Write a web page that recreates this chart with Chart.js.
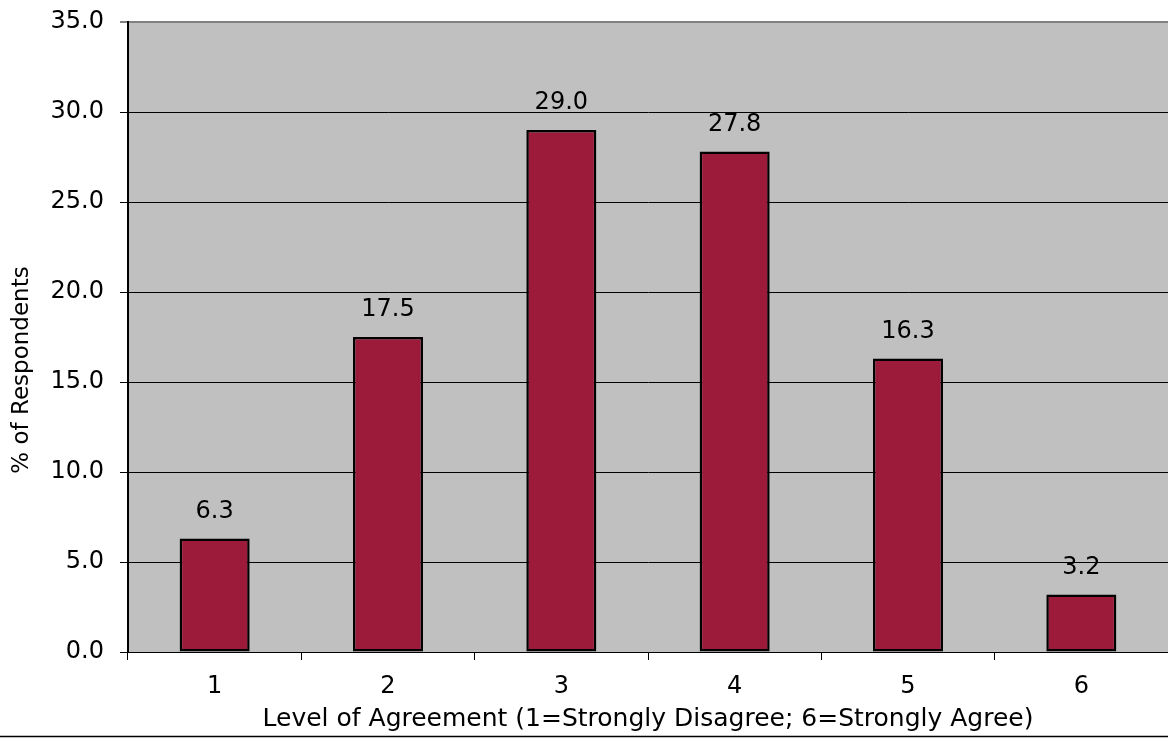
<!DOCTYPE html>
<html>
<head>
<meta charset="utf-8">
<script src="https://cdn.jsdelivr.net/npm/chart.js@4/dist/chart.umd.min.js"></script>
<style>
html,body{margin:0;padding:0;background:#fff;}
#wrap{width:1168px;height:738px;position:relative;}
</style>
</head>
<body>
<div id="wrap"><canvas id="c" width="1168" height="738"></canvas></div>
<script>
const categories = ["1", "2", "3", "4", "5", "6"];
const percentValues = [6.3, 17.5, 29.0, 27.8, 16.3, 3.2];
const yTickValues = [0, 5, 10, 15, 20, 25, 30, 35];
const xTitle = "Level of Agreement (1=Strongly Disagree; 6=Strongly Agree)";
const yTitle = "% of Respondents";

const FONT = "'DejaVu Sans', sans-serif";
const FS = 24;

const plotBg = {
  id: 'plotBg',
  beforeDraw(chart) {
    const {ctx, chartArea: a} = chart;
    ctx.save();
    ctx.fillStyle = '#c0c0c0';
    ctx.fillRect(a.left, a.top, a.right - a.left, a.bottom - a.top);
    ctx.restore();
  },
  afterDraw(chart) {
    const {ctx} = chart;
    ctx.save();
    ctx.strokeStyle = '#000';
    ctx.lineWidth = 1.5;
    ctx.beginPath();
    ctx.moveTo(0, 736.5);
    ctx.lineTo(chart.width, 736.5);
    ctx.stroke();
    // y axis title
    ctx.fillStyle = '#000';
    ctx.font = '23px ' + FONT;
    ctx.textAlign = 'center';
    ctx.textBaseline = 'middle';
    ctx.translate(22, 370);
    ctx.rotate(-Math.PI / 2);
    ctx.fillText(yTitle, 0, 0);
    ctx.restore();
  }
};

const valueLabels = {
  id: 'valueLabels',
  afterDatasetsDraw(chart) {
    const {ctx} = chart;
    const meta = chart.getDatasetMeta(0);
    ctx.save();
    ctx.fillStyle = '#000';
    ctx.font = FS + 'px ' + FONT;
    ctx.textAlign = 'center';
    ctx.textBaseline = 'middle';
    meta.data.forEach((bar, i) => {
      ctx.fillText(percentValues[i].toFixed(1), bar.x, bar.y - 27);
    });
    ctx.restore();
  }
};

new Chart(document.getElementById('c'), {
  type: 'bar',
  data: {
    labels: categories,
    datasets: [{
      data: percentValues,
      backgroundColor: '#9c1a3a',
      borderColor: '#000',
      borderWidth: 2.5,
      borderSkipped: false,
      categoryPercentage: 1,
      barPercentage: 0.404
    }]
  },
  options: {
    responsive: false,
    animation: false,
    devicePixelRatio: 1,
    layout: {padding: {top: 22, right: 0, left: 0, bottom: 0}},
    plugins: {legend: {display: false}, tooltip: {enabled: false}},
    scales: {
      x: {
        grid: {offset: true, drawOnChartArea: false, drawTicks: true, tickLength: 8, color: '#000', lineWidth: 1},
        border: {display: true, color: '#000', width: 1},
        ticks: {color: '#000', font: {family: FONT, size: FS}, padding: 12, maxRotation: 0},
        title: {display: true, text: xTitle, color: '#000', font: {family: FONT, size: 25}, padding: {top: 0, bottom: 4}},
        afterFit(scale) { scale.height = 86; scale.paddingLeft = 0; scale.paddingRight = 0; }
      },
      y: {
        min: 0, max: 35,
        afterBuildTicks(scale) { scale.ticks = yTickValues.map(v => ({value: v})); },
        grid: {
          drawTicks: true, tickLength: 8,
          color: c => (c.tick && c.tick.value === 35 && c.type === 'tick') ? '#808080' : '#000',
          lineWidth: c => (c.tick && c.tick.value === 35) ? 2 : 1
        },
        border: {display: true, color: '#000', width: 2},
        ticks: {color: '#000', font: {family: FONT, size: FS}, padding: 16, callback: v => Number(v).toFixed(1)},
        title: {display: false},
        afterFit(scale) { scale.width = 128; scale.paddingTop = 0; scale.paddingBottom = 0; }
      }
    }
  },
  plugins: [plotBg, valueLabels]
});
</script>
</body>
</html>
